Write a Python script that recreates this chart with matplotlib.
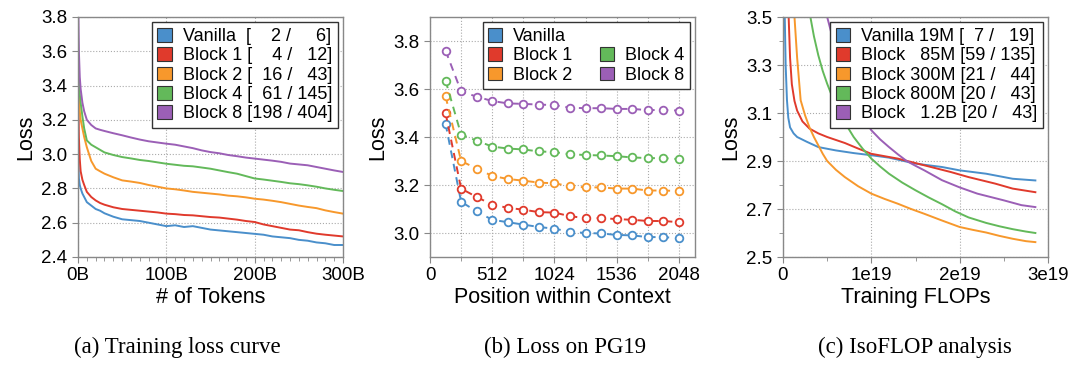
import matplotlib.pyplot as plt
from matplotlib.patches import Patch

plt.rcParams['font.family'] = ['Liberation Sans', 'DejaVu Sans']

colors = ['#4a8fcb', '#e03a2c', '#f7982c', '#63b95a', '#9b5fb6']

# ---- (a) training loss curve: tokens in B ----
tok = [0, 0.5, 1, 2, 3, 5, 7, 10, 15, 20, 25, 30, 40, 50, 60, 70, 80, 90, 100,
       110, 120, 130, 140, 150, 160, 170, 180, 190, 200, 210, 220, 230, 240,
       250, 260, 270, 280, 290, 300]
loss_a = {
    'Vanilla': [3.05, 2.95, 2.86, 2.82, 2.80, 2.77, 2.75, 2.72, 2.70, 2.68,
                2.67, 2.655, 2.635, 2.62, 2.615, 2.61, 2.60, 2.59, 2.58,
                2.585, 2.575, 2.58, 2.57, 2.56, 2.555, 2.55, 2.545, 2.54,
                2.535, 2.53, 2.52, 2.515, 2.51, 2.50, 2.495, 2.485, 2.48,
                2.47, 2.47],
    'Block 1': [3.40, 3.30, 3.10, 2.97, 2.90, 2.85, 2.82, 2.78, 2.75, 2.73,
                2.715, 2.705, 2.69, 2.68, 2.675, 2.67, 2.665, 2.66, 2.653,
                2.65, 2.645, 2.643, 2.638, 2.633, 2.63, 2.624, 2.618, 2.61,
                2.604, 2.59, 2.58, 2.57, 2.56, 2.556, 2.545, 2.536, 2.53,
                2.525, 2.52],
    'Block 2': [3.60, 3.45, 3.35, 3.25, 3.20, 3.15, 3.10, 3.04, 2.96, 2.915,
                2.90, 2.886, 2.865, 2.847, 2.84, 2.832, 2.82, 2.81, 2.80,
                2.795, 2.788, 2.78, 2.775, 2.77, 2.765, 2.758, 2.754, 2.748,
                2.74, 2.735, 2.728, 2.72, 2.71, 2.70, 2.692, 2.685, 2.672,
                2.662, 2.653],
    'Block 4': [3.70, 3.55, 3.45, 3.35, 3.30, 3.22, 3.15, 3.08, 3.055, 3.04,
                3.025, 3.01, 2.995, 2.983, 2.975, 2.966, 2.96, 2.952, 2.944,
                2.938, 2.932, 2.929, 2.922, 2.915, 2.905, 2.895, 2.886, 2.872,
                2.858, 2.852, 2.845, 2.838, 2.83, 2.825, 2.818, 2.81, 2.80,
                2.792, 2.785],
    'Block 8': [3.85, 3.80, 3.60, 3.45, 3.38, 3.30, 3.25, 3.20, 3.17, 3.15,
                3.142, 3.135, 3.122, 3.11, 3.097, 3.085, 3.075, 3.068, 3.061,
                3.055, 3.045, 3.035, 3.022, 3.012, 3.005, 2.995, 2.988, 2.98,
                2.974, 2.968, 2.962, 2.955, 2.945, 2.94, 2.935, 2.925, 2.915,
                2.905, 2.896],
}
legend_a = ['Vanilla  [    2 /     6]', 'Block 1 [    4 /   12]',
            'Block 2 [  16 /   43]', 'Block 4 [  61 / 145]',
            'Block 8 [198 / 404]']

# ---- (b) loss on PG19 by position ----
pos = [128, 256, 384, 512, 640, 768, 896, 1024, 1152, 1280, 1408, 1536,
       1664, 1792, 1920, 2048]
loss_b = {
    'Vanilla': [3.455, 3.13, 3.09, 3.055, 3.045, 3.035, 3.025, 3.018, 3.005,
                3.0, 2.998, 2.992, 2.99, 2.983, 2.983, 2.978],
    'Block 1': [3.50, 3.185, 3.15, 3.118, 3.105, 3.097, 3.087, 3.085, 3.07,
                3.062, 3.062, 3.058, 3.055, 3.05, 3.05, 3.045],
    'Block 2': [3.57, 3.30, 3.268, 3.238, 3.225, 3.218, 3.21, 3.207, 3.195,
                3.19, 3.19, 3.185, 3.185, 3.177, 3.177, 3.175],
    'Block 4': [3.635, 3.41, 3.385, 3.36, 3.352, 3.348, 3.34, 3.337, 3.328,
                3.325, 3.323, 3.32, 3.315, 3.312, 3.312, 3.308],
    'Block 8': [3.76, 3.59, 3.568, 3.55, 3.54, 3.538, 3.535, 3.533, 3.522,
                3.52, 3.52, 3.517, 3.517, 3.512, 3.513, 3.51],
}

# ---- (c) IsoFLOP: FLOPs in units of 1e19 ----
flops_c = {
    'Vanilla': [0.02, 0.03, 0.045, 0.06, 0.08, 0.12, 0.16, 0.27, 0.4, 0.6,
                0.8, 1.0, 1.2, 1.5, 1.8, 2.0, 2.3, 2.6, 2.857],
    'Block 85M': [0.064, 0.08, 0.1, 0.13, 0.16, 0.22, 0.3, 0.4, 0.5, 0.7,
                  0.85, 1.0, 1.3, 1.6, 1.9, 2.1, 2.4, 2.6, 2.857],
    'Block 300M': [0.13, 0.16, 0.2, 0.25, 0.3, 0.35, 0.4, 0.45, 0.5, 0.6,
                   0.7, 0.85, 1.0, 1.15, 1.3, 1.45, 1.6, 1.8, 2.0, 2.15, 2.3,
                   2.45, 2.6, 2.75, 2.857],
    'Block 800M': [0.31, 0.35, 0.4, 0.45, 0.5, 0.55, 0.6, 0.7, 0.8, 0.9, 1.0,
                   1.1, 1.2, 1.35, 1.5, 1.65, 1.8, 1.95, 2.1, 2.3, 2.45, 2.6,
                   2.75, 2.857],
    'Block 1.2B': [0.5, 0.55, 0.6, 0.65, 0.7, 0.8, 0.9, 1.0, 1.1, 1.2, 1.3,
                   1.4, 1.5, 1.6, 1.8, 2.0, 2.2, 2.5, 2.7, 2.857],
}
loss_c = {
    'Vanilla': [3.5, 3.3, 3.153, 3.08, 3.04, 3.015, 3.0, 2.98, 2.958, 2.944,
                2.933, 2.924, 2.914, 2.889, 2.875, 2.861, 2.847, 2.826, 2.819],
    'Block 85M': [3.5, 3.33, 3.22, 3.15, 3.11, 3.065, 3.035, 3.015, 3.0,
                  2.975, 2.952, 2.93, 2.91, 2.882, 2.854, 2.833, 2.806, 2.785,
                  2.77],
    'Block 300M': [3.5, 3.33, 3.153, 3.09, 3.04, 3.0, 2.965, 2.93, 2.90,
                   2.863, 2.833, 2.795, 2.764, 2.742, 2.722, 2.70, 2.68, 2.652,
                   2.625, 2.613, 2.602, 2.588, 2.576, 2.566, 2.562],
    'Block 800M': [3.5, 3.42, 3.34, 3.275, 3.222, 3.175, 3.132, 3.06, 3.0,
                   2.952, 2.91, 2.877, 2.847, 2.81, 2.778, 2.748, 2.72, 2.69,
                   2.665, 2.642, 2.628, 2.616, 2.606, 2.60],
    'Block 1.2B': [3.5, 3.43, 3.375, 3.31, 3.25, 3.153, 3.085, 3.028, 2.99,
                   2.958, 2.928, 2.9, 2.88, 2.861, 2.82, 2.79, 2.764, 2.736,
                   2.716, 2.708],
}
legend_c = ['Vanilla 19M [  7 /   19]', 'Block   85M [59 / 135]',
            'Block 300M [21 /   44]', 'Block 800M [20 /   43]',
            'Block   1.2B [20 /   43]']

W, H = 1080, 374
fig = plt.figure(figsize=(W / 100, H / 100), dpi=100)
axes = [fig.add_axes([x / W, 1 - 257 / H, 265 / W, 240 / H]) for x in (78, 430, 783)]

spine_col = '#888888'
for ax in axes:
    for s in ax.spines.values():
        s.set_color(spine_col)
        s.set_linewidth(1.0)
    ax.tick_params(which='both', colors=spine_col, labelcolor='black',
                   labelsize=13.5, length=4)
    ax.tick_params(which='minor', length=3)
    ax.set_ylabel('Loss', fontsize=15.5)
    ax.set_axisbelow(True)

leg_kw = dict(fontsize=13, handlelength=0.8, handleheight=0.8,
              handletextpad=0.6, borderpad=0.3, labelspacing=0.12,
              fancybox=False, edgecolor='#333333', framealpha=1,
              borderaxespad=0.3)


def square(c):
    return Patch(facecolor=c, edgecolor='#333333', linewidth=0.8)


# (a)
ax = axes[0]
for (name, ys), c in zip(loss_a.items(), colors):
    ax.plot(tok, ys, color=c, lw=1.4)
ax.set_xlim(0, 300)
ax.set_ylim(2.4, 3.8)
ax.set_xticks([0, 100, 200, 300])
ax.set_xticklabels(['0B', '100B', '200B', '300B'])
ax.set_xticks(range(0, 301, 10), minor=True)
ax.set_yticks([2.4, 2.6, 2.8, 3.0, 3.2, 3.4, 3.6, 3.8])
ax.grid(True, which='major', ls=':', color='#aaaaaa', lw=0.8)
ax.set_xlabel('# of Tokens', fontsize=15.5, labelpad=2)
ax.legend([square(c) for c in colors], legend_a, loc='upper right', **leg_kw)

# (b)
ax = axes[1]
for (name, ys), c in zip(loss_b.items(), colors):
    ax.plot(pos, ys, color=c, lw=1.4, ls=(0, (4, 3)), marker='o', ms=5.5,
            mfc='white', mec=c, mew=1.3)
ax.set_xlim(0, 2180)
ax.set_ylim(2.9, 3.9)
ax.set_xticks([0, 512, 1024, 1536, 2048])
ax.set_xticks(range(0, 2049, 256), minor=True)
ax.set_yticks([3.0, 3.2, 3.4, 3.6, 3.8])
ax.grid(True, which='both', ls=':', color='#aaaaaa', lw=0.8)
ax.set_xlabel('Position within Context', fontsize=15.5, labelpad=2)
names_b = list(loss_b.keys())
handles = [square(colors[0]), square(colors[1]), square(colors[2]),
           Patch(visible=False), square(colors[3]), square(colors[4])]
labels = [names_b[0], names_b[1], names_b[2], '', names_b[3], names_b[4]]
ax.legend(handles, labels, ncol=2, loc='upper right', columnspacing=1.5,
          **leg_kw)

# (c)
ax = axes[2]
for (name, ys), c in zip(loss_c.items(), colors):
    xs = [v * 1e19 for v in flops_c[name]]
    ax.plot(xs, ys, color=c, lw=1.4)
ax.set_xlim(0, 3e19)
ax.set_ylim(2.5, 3.5)
ax.set_xticks([0, 1e19, 2e19, 3e19])
ax.set_xticklabels(['0', '1e19', '2e19', '3e19'])
ax.set_xticks([0.5e19, 1.5e19, 2.5e19], minor=True)
ax.set_yticks([2.5, 2.7, 2.9, 3.1, 3.3, 3.5])
ax.set_yticks([2.6, 2.8, 3.0, 3.2, 3.4], minor=True)
ax.grid(True, which='major', ls=':', color='#aaaaaa', lw=0.8)
ax.set_xlabel('Training FLOPs', fontsize=15.5, labelpad=2)
ax.legend([square(c) for c in colors], legend_c, loc='upper right', **leg_kw)

captions = ['(a) Training loss curve', '(b) Loss on PG19', '(c) IsoFLOP analysis']
for x, t in zip((177, 565, 915), captions):
    fig.text(x / W, 1 - 347 / H, t, ha='center', va='center', fontsize=16.5,
             family=['Liberation Serif', 'DejaVu Serif'])

fig.savefig('out.png', dpi=100)
